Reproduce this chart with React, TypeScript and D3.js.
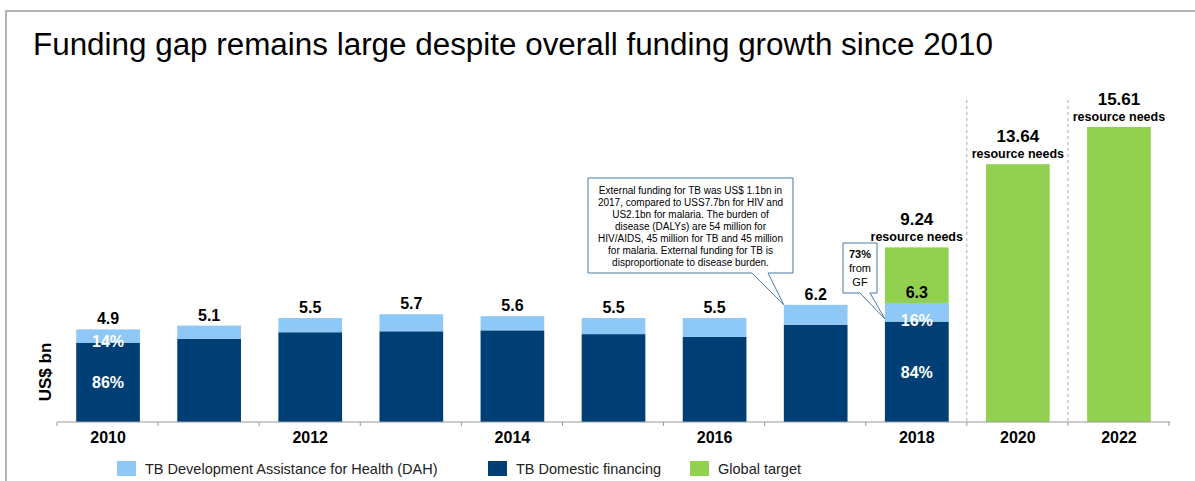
import React from "react";
import * as d3 from "d3";

const categories = ["2010", "2011", "2012", "2013", "2014", "2015", "2016", "2017", "2018", "2020", "2022"];
const tickLabels = ["2010", "2012", "2014", "2016", "2018", "2020", "2022"];
const fundedYears = ["2010", "2011", "2012", "2013", "2014", "2015", "2016", "2017", "2018"];
const totalFunding = [4.9, 5.1, 5.5, 5.7, 5.6, 5.5, 5.5, 6.2, 6.3];
const dahFunding = [0.7, 0.7, 0.75, 0.9, 0.75, 0.85, 1.0, 1.05, 1.0];
const targetYears = ["2018", "2020", "2022"];
const targetValues = [9.24, 13.64, 15.61];
const shareLabels = [
  { year: "2010", dah: "14%", dom: "86%" },
  { year: "2018", dah: "16%", dom: "84%" },
];
const noteLines = [
  "External funding for TB was US$ 1.1bn in",
  "2017, compared to USS7.7bn for HIV and",
  "US2.1bn for malaria. The burden of",
  "disease (DALYs) are 54 million for",
  "HIV/AIDS, 45 million for TB and 45 million",
  "for malaria. External funding for TB is",
  "disproportionate to disease burden.",
];
const gfLines = ["73%", "from", "GF"];
const legendItems = [
  { label: "TB Development Assistance for Health (DAH)", color: "#8DC8F7" },
  { label: "TB Domestic financing", color: "#003F76" },
  { label: "Global target", color: "#92D050" },
];

const LIGHT = "#8DC8F7";
const DARK = "#003F76";
const GREEN = "#92D050";
const FONT = "'Liberation Sans', Arial, sans-serif";

export default function App() {
  const x = d3.scaleBand<string>().domain(categories).range([57, 1170]).paddingInner(0.37).paddingOuter(0.19);
  const y = d3.scaleLinear().domain([0, 16]).range([422, 422 - 16 * 18.9]);
  const bw = x.bandwidth();
  const step = x.step();
  const base = y(0);
  const cx = (c: string) => (x(c) as number) + bw / 2;

  const tickXs = d3.range(categories.length + 1).map((i) => 57 + i * step);

  const x2017 = x("2017") as number;
  const tip1 = { x: x2017, y: y(totalFunding[7]) };
  const box1 = { x0: 588, y0: 178, x1: 793, y1: 273 };
  const x2018 = x("2018") as number;
  const tip2 = { x: x2018, y: y(totalFunding[8]) + 16 };
  const box2 = { x0: 843, y0: 243, x1: 877, y1: 293 };

  const calloutPath = (b: any, w0: number, w1: number, tip: any) =>
    `M${b.x0},${b.y0}H${b.x1}V${b.y1}H${w1}L${tip.x},${tip.y}L${w0},${b.y1}H${b.x0}Z`;

  return (
    <svg width={1195} height={481} style={{ position: "absolute", left: 0, top: 0, background: "#fff" }} fontFamily={FONT}>
      <path d="M6,481V11H1195" fill="none" stroke="#b3b3b3" strokeWidth={2} />
      <text x={33} y={55} fontSize={31} fill="#000" textLength={960} lengthAdjust="spacingAndGlyphs">
        Funding gap remains large despite overall funding growth since 2010
      </text>

      {[9, 10].map((i) => (
        <line key={i} x1={tickXs[i]} x2={tickXs[i]} y1={100} y2={base} stroke="#aaa" strokeDasharray="3,3" strokeWidth={1} />
      ))}

      {targetYears.map((c, i) => (
        <rect key={c} x={x(c)} y={y(targetValues[i])} width={bw} height={base - y(targetValues[i])} fill={GREEN} />
      ))}

      {fundedYears.map((c, i) => {
        const dom = totalFunding[i] - dahFunding[i];
        return (
          <g key={c}>
            <rect x={x(c)} y={y(dom)} width={bw} height={base - y(dom)} fill={DARK} />
            <rect x={x(c)} y={y(totalFunding[i])} width={bw} height={y(dom) - y(totalFunding[i])} fill={LIGHT} />
            <text x={cx(c)} y={y(totalFunding[i]) - 5} textAnchor="middle" fontSize={16} fontWeight="bold" fill="#000">
              {totalFunding[i]}
            </text>
          </g>
        );
      })}

      {shareLabels.map((s) => {
        const i = fundedYears.indexOf(s.year);
        const dom = totalFunding[i] - dahFunding[i];
        return (
          <g key={s.year} fill="#fff" fontWeight="bold" fontSize={16} textAnchor="middle">
            <text x={cx(s.year)} y={y(dom) + 4}>{s.dah}</text>
            <text x={cx(s.year)} y={(y(dom) + base) / 2 + 6}>{s.dom}</text>
          </g>
        );
      })}

      {targetYears.map((c, i) => {
        const top = y(targetValues[i]);
        return (
          <g key={c} textAnchor="middle" fontWeight="bold" fill="#000">
            <text x={cx(c)} y={top - 22} fontSize={17}>{targetValues[i].toFixed(2)}</text>
            <text x={cx(c)} y={top - 6} fontSize={12.5}>resource needs</text>
          </g>
        );
      })}

      <line x1={57} x2={1170} y1={base} y2={base} stroke="#999" strokeWidth={1} />
      {tickXs.map((t, i) => (
        <line key={i} x1={t} x2={t} y1={base} y2={base + 4} stroke="#999" />
      ))}
      {tickLabels.map((c) => (
        <text key={c} x={cx(c)} y={443} textAnchor="middle" fontSize={16} fontWeight="bold" fill="#000">
          {c}
        </text>
      ))}

      <text transform="translate(51,372) rotate(-90)" textAnchor="middle" fontSize={17} fontWeight="bold" fill="#000">
        US$ bn
      </text>

      <path d={calloutPath(box1, 752, 768, tip1)} fill="#fff" stroke="#4a7aa6" strokeWidth={1} />
      {noteLines.map((l, i) => (
        <text key={i} x={(box1.x0 + box1.x1) / 2} y={194 + i * 12} textAnchor="middle" fontSize={10} fill="#000">
          {l}
        </text>
      ))}
      <path d={calloutPath(box2, 860, 870, tip2)} fill="#fff" stroke="#4a7aa6" strokeWidth={1} />
      {gfLines.map((l, i) => (
        <text key={i} x={(box2.x0 + box2.x1) / 2} y={258 + i * 14} textAnchor="middle" fontSize={11} fontWeight={i === 0 ? "bold" : "normal"} fill="#000">
          {l}
        </text>
      ))}

      {legendItems.map((d, i) => {
        const lx = [117, 488, 690][i];
        return (
          <g key={d.label}>
            <rect x={lx} y={461} width={19} height={15} fill={d.color} />
            <text x={lx + 28} y={474} fontSize={14.5} fill="#222">{d.label}</text>
          </g>
        );
      })}
    </svg>
  );
}
